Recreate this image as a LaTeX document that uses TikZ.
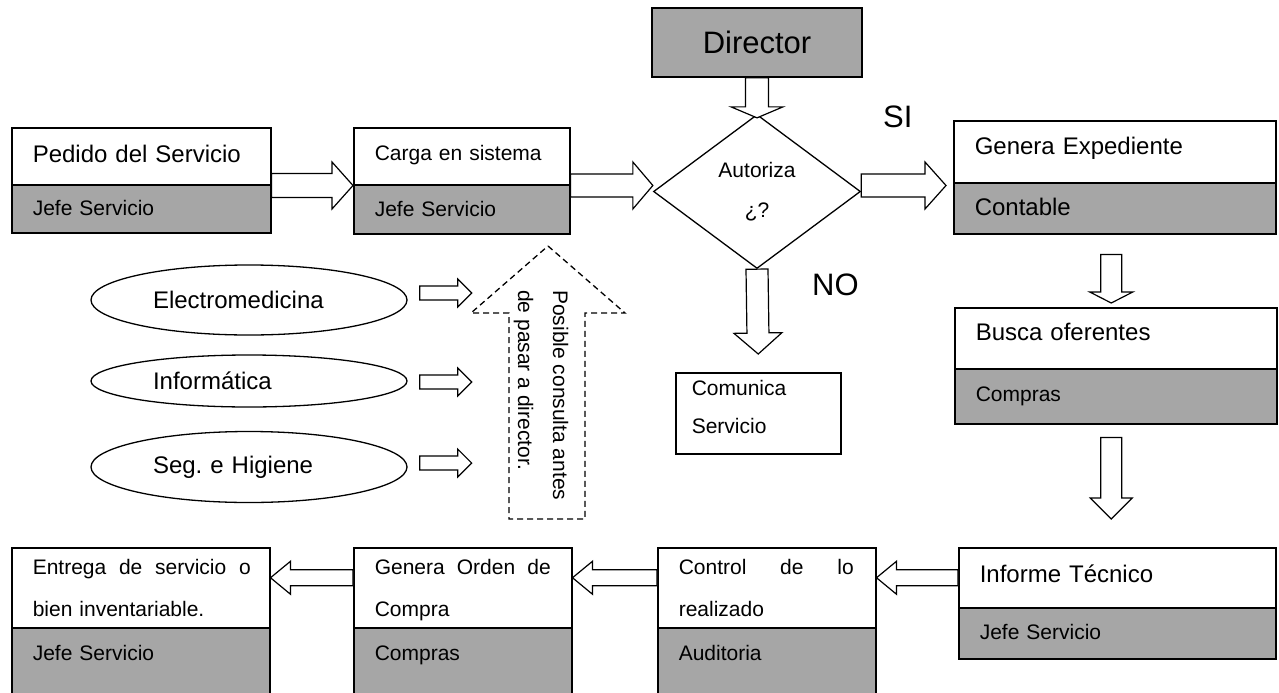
\documentclass[tikz,border=0pt]{standalone}
\usepackage{fontspec}
\setmainfont{Liberation Sans}
\usetikzlibrary{calc,shapes.geometric}
\definecolor{boxgray}{HTML}{A6A6A6}
\frenchspacing

% Block arrow: start, tip, half shaft width, half head width, head length
\newcommand{\blockarrow}[5]{%
  \path (#1) coordinate (ba-s) (#2) coordinate (ba-t);
  \path ($(ba-t)!#5!(ba-s)$) coordinate (ba-h);
  \draw[barrow] ($(ba-s)!#3!90:(ba-t)$) -- ($(ba-h)!#3!90:(ba-t)$)
    -- ($(ba-h)!#4!90:(ba-t)$) -- (ba-t) -- ($(ba-h)!#4!-90:(ba-t)$)
    -- ($(ba-h)!#3!-90:(ba-t)$) -- ($(ba-s)!#3!-90:(ba-t)$) -- cycle;
}
% A line of text spread to a given width
\newcommand{\spreadline}[2]{\hbox to #1{\spaceskip=0.3em plus 1fil\relax #2}}

\tikzset{
  boxpart/.style={draw=black, line width=1.5pt, anchor=north west,
    inner xsep=21pt, inner ysep=0pt, align=left},
  wpart/.style={boxpart, fill=white},
  gpart/.style={boxpart, fill=boxgray},
  txtbig/.style={font=\fontsize{24}{30}\selectfont},
  txtsmall/.style={font=\fontsize{21}{42}\selectfont},
  txthuge/.style={font=\fontsize{31}{36}\selectfont},
  barrow/.style={draw=black, line width=1.2pt, fill=white, line join=miter},
  oval/.style={ellipse, draw=black, line width=1.3pt, fill=white, inner sep=0pt,
    minimum width=316pt, text width=192pt, align=left, txtbig},
}

\begin{document}
\begin{tikzpicture}[x=1pt,y=-1pt]
\useasboundingbox (0,0) rectangle (1279,693);
\fill[white] (0,0) rectangle (1279,693);
\clip (0,0) rectangle (1279,693);

% ---- top row ----
\node[wpart, txtbig, text width=217pt, text height=34.6pt, text depth=22.4pt] (b1t) at (11,127) {Pedido del Servicio};
\node[gpart, txtsmall, text width=217pt, text height=30.5pt, text depth=17.5pt] (b1b) at (11,184) {Jefe Servicio};

\node[wpart, txtsmall, text width=174pt, text height=32.5pt, text depth=24.5pt] (b2t) at (353,127) {Carga en sistema};
\node[gpart, txtsmall, text width=174pt, text height=31.5pt, text depth=17.5pt] (b2b) at (353,184) {Jefe Servicio};

\node[draw=black, line width=1.5pt, fill=boxgray, minimum width=210pt, minimum height=69pt,
  inner sep=0pt, txthuge] (dir) at (757,42.5) {Director};

\node[diamond, draw=black, line width=1.3pt, fill=white, minimum width=207pt, minimum height=154pt,
  inner sep=0pt, align=center, font=\fontsize{21}{40}\selectfont] (dia) at (757,191.5) {Autoriza\\¿?};

\node[txthuge, anchor=base west, inner sep=0pt] (si) at (883,127) {SI};
\node[txthuge, anchor=base west, inner sep=0pt] (no) at (812,295) {NO};

\node[wpart, txtbig, text width=280pt, text height=33.6pt, text depth=28.4pt] (b3t) at (953,120) {Genera Expediente};
\node[gpart, txtbig, text width=280pt, text height=32.6pt, text depth=18.4pt] (b3b) at (953,182) {Contable};

\node[wpart, txtbig, text width=280pt, text height=32.6pt, text depth=28.4pt] (b4t) at (954,307) {Busca oferentes};
\node[gpart, txtsmall, text width=280pt, text height=32.5pt, text depth=22.5pt] (b4b) at (954,368) {Compras};

\node[boxpart, fill=white, inner xsep=16pt, text width=133pt, text height=22.5pt, text depth=58.5pt,
  font=\fontsize{21}{38}\selectfont] (com) at (675,372) {Comunica\\Servicio};

% ---- consultation areas ----
\node[oval, minimum height=70pt] (e1) at (249,300) {Electromedicina};
\node[oval, minimum height=52pt] (e2) at (249,381) {Informática};
\node[oval, minimum height=71pt] (e3) at (249,467) {Seg. e Higiene};

\draw[line width=1.3pt, dash pattern=on 6pt off 4pt, line join=miter]
  (548,246) -- (625,313) -- (585,313) -- (585,519) -- (509,519) -- (509,313) -- (471,313) -- cycle;
\node[txtsmall, rotate=-90, anchor=base west, inner sep=0pt] (c1) at (553,290) {Posible consulta antes};
\node[txtsmall, rotate=-90, anchor=base west, inner sep=0pt] (c2) at (518,290) {de pasar a director.};

% ---- bottom row ----
\node[wpart, txtbig, text width=275pt, text height=34.6pt, text depth=25.4pt] (b5t) at (958,547) {Informe Técnico};
\node[gpart, txtsmall, text width=275pt, text height=31.5pt, text depth=19.5pt] (b5b) at (958,607) {Jefe Servicio};

\node[wpart, txtsmall, text width=176pt, text height=26.5pt, text depth=53.5pt] (b6t) at (657,547)
  {\spreadline{175pt}{Control de lo}\\realizado};
\node[gpart, txtsmall, text width=176pt, text height=32.5pt, text depth=40.5pt] (b6b) at (657,627) {Auditoria};

\node[wpart, txtsmall, text width=176pt, text height=26.5pt, text depth=53.5pt] (b7t) at (353,547)
  {\spreadline{176pt}{Genera Orden de}\\Compra};
\node[gpart, txtsmall, text width=176pt, text height=32.5pt, text depth=40.5pt] (b7b) at (353,627) {Compras};

\node[wpart, txtsmall, text width=216pt, text height=26.5pt, text depth=53.5pt] (b8t) at (11,547)
  {\spreadline{218pt}{Entrega de servicio o}\\bien inventariable.};
\node[gpart, txtsmall, text width=216pt, text height=32.5pt, text depth=40.5pt] (b8b) at (11,627) {Jefe Servicio};

% ---- block arrows ----
\blockarrow{b1t.south east}{b2t.south west}{12pt}{23.5pt}{21pt}
\blockarrow{b2t.south east}{dia.west |- b2t.south east}{11.5pt}{23.5pt}{20pt}
\blockarrow{dia.east |- b2t.south east}{$(b3t.south west)+(-7,2)$}{11.5pt}{23.5pt}{21pt}
\blockarrow{dir.south}{$(dia.north)+(0,4)$}{11.5pt}{26pt}{11pt}
\blockarrow{dia.south}{$(com.north)+(0,-18)$}{11pt}{24pt}{21pt}
\blockarrow{$(b3b.south)+(-3.5,20)$}{$(b4t.north)+(-4.5,-4)$}{10.5pt}{21.5pt}{11pt}
\blockarrow{$(b4b.south)+(-4.5,13)$}{$(b5t.north)+(-6,-28)$}{10.5pt}{21pt}{21pt}
\blockarrow{b5t.west}{b6t.east |- b5t.west}{8pt}{16.5pt}{20pt}
\blockarrow{b6t.west |- b5t.west}{b7t.east |- b5t.west}{8pt}{16.5pt}{20pt}
\blockarrow{b7t.west |- b5t.west}{b8t.east |- b5t.west}{8pt}{16.5pt}{20pt}

\blockarrow{$(e1.east)+(12,-7)$}{$(e1.east)+(64,-7)$}{7pt}{14pt}{14pt}
\blockarrow{$(e2.east)+(12,1)$}{$(e2.east)+(64,1)$}{7pt}{14pt}{14pt}
\blockarrow{$(e3.east)+(12,-4)$}{$(e3.east)+(64,-4)$}{7pt}{14pt}{14pt}
\end{tikzpicture}
\end{document}
